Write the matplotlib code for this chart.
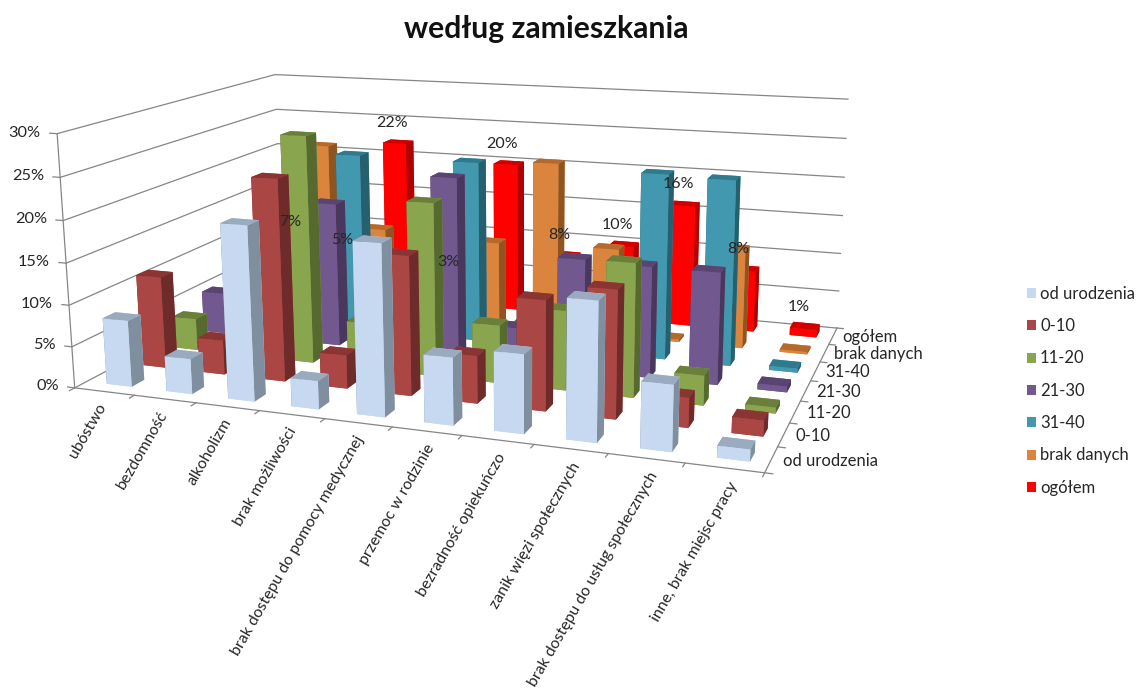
import matplotlib
matplotlib.use("Agg")
import matplotlib.pyplot as plt
from matplotlib.patches import Patch
from mpl_toolkits.mplot3d import proj3d

kategorie = ["ubóstwo", "bezdomność", "alkoholizm", "brak możliwości",
             "brak dostępu do pomocy medycznej", "przemoc w rodzinie",
             "bezradność opiekuńczo", "zanik więzi społecznych",
             "brak dostępu do usług społecznych", "inne, brak miejsc pracy"]
serie = ["od urodzenia", "0-10", "11-20", "21-30", "31-40", "brak danych", "ogółem"]
od_urodzenia = [8, 4.2, 20.5, 3.3, 19.7, 7.7, 8.9, 15.5, 7.3, 1.3]
w0_10 = [11.3, 4.2, 24.3, 4, 16.5, 5.6, 12.8, 14.7, 3.4, 1.8]
w11_20 = [4, 1, 28, 5.7, 21, 7, 9.5, 15.8, 3.5, 0.7]
w21_30 = [5.3, 2, 18.2, 3, 22.5, 4.5, 13.7, 13.5, 13.5, 0.7]
w31_40 = [3, 2, 23, 2, 23, 3, 5, 23, 22.8, 0.5]
brak_danych = [3, 22.5, 11.6, 3, 11, 22, 11.4, 0.3, 12.6, 0.3]
ogolem = [7, 5, 22, 3, 20, 8, 10, 16, 8, 1]
wartosci = [od_urodzenia, w0_10, w11_20, w21_30, w31_40, brak_danych, ogolem]
etykiety = ["7%", "5%", "22%", "3%", "20%", "8%", "10%", "16%", "8%", "1%"]
z_ticks = [0, 5, 10, 15, 20, 25, 30]

kolory = ["#C6D9F1", "#AA4643", "#89A54E", "#71588F", "#4198AF", "#DB843D", "#FF0000"]
kolory_gora = ["#9AAABF", "#8A3533", "#6A803A", "#5A4472", "#2F7A8E", "#B56A2C", "#D00000"]
kolory_bok = ["#7F8FA0", "#6E2B2A", "#566A2F", "#4A375E", "#265F6E", "#8E5522", "#B00000"]
szary = "#868686"
tekst = "#262626"

plt.rcParams["font.family"] = ["Lato", "DejaVu Sans"]

fig = plt.figure(figsize=(11.38, 6.91), dpi=100)
ax = fig.add_axes([-0.090, 0.142, 1, 1], projection="3d", computed_zorder=False)
ax.set_xlim(0, 10)
ax.set_ylim(0, 7)
ax.set_zlim(0, 30)
ax.set_axis_off()
ax.view_init(elev=13.358, azim=-69.768, roll=0.412)
ax.set_proj_type("persp", focal_length=0.423)
ax.set_box_aspect((1, 0.660, 0.373), zoom=1.170)
M = ax.get_proj()


def napis(x, y, z, s, **kw):
    # tekst 2D w miejscu punktu 3D, bo Text3D ignoruje rotation
    a, b, _ = proj3d.proj_transform(x, y, z, M)
    ax.text2D(a, b, s, transform=ax.transData, color=tekst, zorder=300, **kw)


# siatka na scianach
for z in z_ticks:
    ax.plot([0, 0, 10], [0, 7, 7], [z, z, z], color=szary, lw=0.9, zorder=1, clip_on=False)
    ax.plot([-0.12, 0], [0, 0], [z, z], color=szary, lw=0.9, zorder=1, clip_on=False)
    napis(-0.27, 0, z, f"{z}%", ha="right", va="center", fontsize=11.8)
# osie
ax.plot([0, 0], [0, 0], [0, 30], color=szary, lw=0.9, zorder=2, clip_on=False)
ax.plot([0, 10, 10], [0, 0, 7], [0, 0, 0], color=szary, lw=0.9, zorder=2, clip_on=False)
for i in range(11):
    ax.plot([i, i], [0, -0.14], [0, 0], color=szary, lw=0.9, zorder=2, clip_on=False)
for k in range(8):
    ax.plot([10, 10.1], [k, k], [0, 0], color=szary, lw=0.9, zorder=2, clip_on=False)

# slupki od tylu do przodu
for k in range(6, -1, -1):
    for i in range(10):
        g = ax.bar3d(i + 0.34, k + 0.33, 0, 0.42, 0.36, wartosci[k][i], shade=False,
                     color=[kolory[k], kolory_gora[k], kolory[k], kolory[k], kolory_bok[k], kolory_bok[k]])
        g.set_zorder(100 - 10 * k + i / 20)
        g.set_clip_on(False)

for i, nazwa in enumerate(kategorie):
    napis(i + 0.62, -0.4, 0, nazwa, ha="right", va="top", rotation=60,
          rotation_mode="anchor", fontsize=11.4)
for k, nazwa in enumerate(serie):
    napis(10.15, k + 0.5, 0, nazwa, ha="left", va="center", fontsize=12)
for i, opis in enumerate(etykiety):
    napis(i + 0.44, 6.5, ogolem[i] + 2.5, opis, ha="center", va="center", fontsize=11.5)

uchwyty = [Patch(facecolor=c, label=s) for c, s in zip(kolory, serie)]
fig.legend(handles=uchwyty, loc="center left", bbox_to_anchor=(0.889, 0.4345), frameon=False,
           fontsize=12, handlelength=0.55, handleheight=0.55, handletextpad=0.25,
           labelspacing=0.98, labelcolor=tekst)
fig.text(0.48, 0.958, "według zamieszkania", ha="center", va="center", fontsize=21.7,
         fontweight="bold", color="#111111")
fig.savefig("out.png", dpi=100)
